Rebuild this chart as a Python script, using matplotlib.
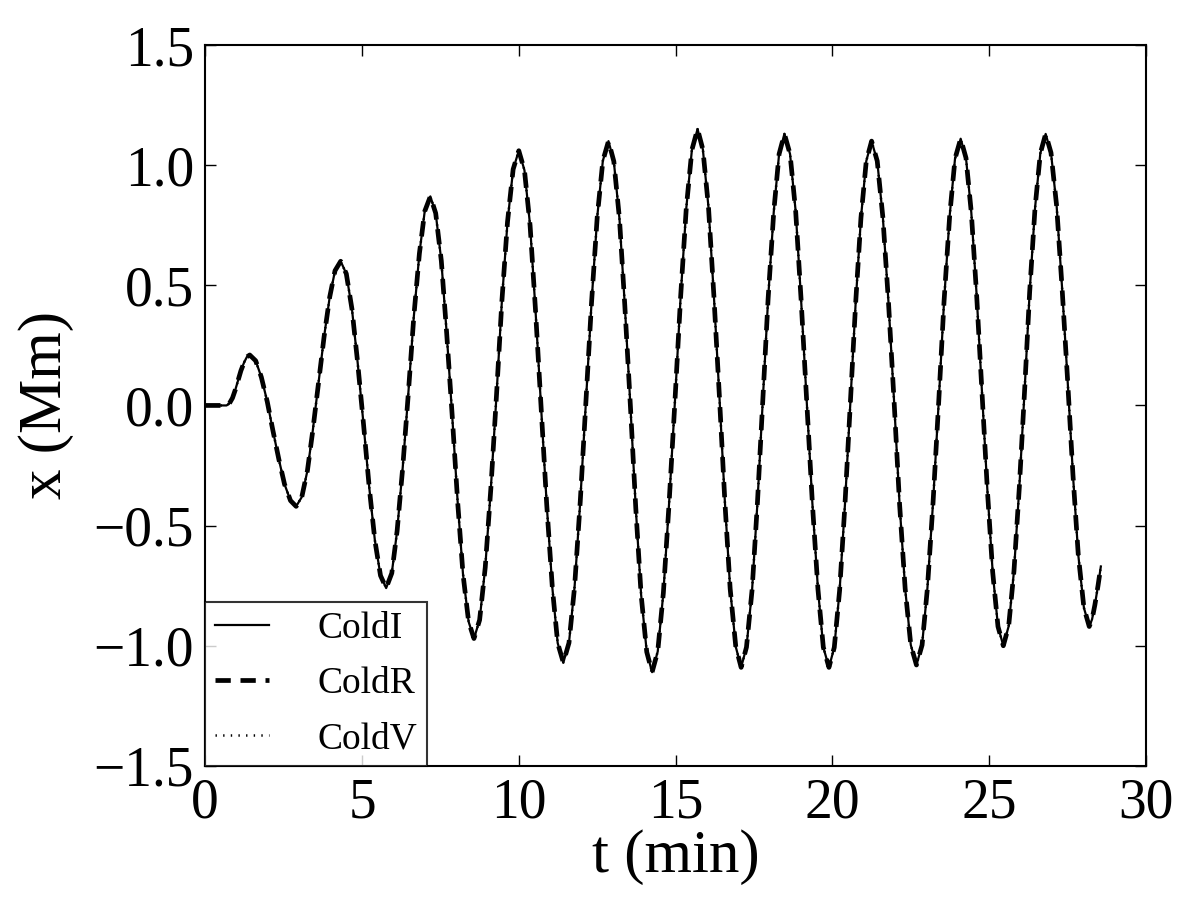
import matplotlib
matplotlib.use("Agg")
import matplotlib.pyplot as plt

# values (time in minutes, displacement in Mm)
t_min = [0.00, 0.30, 0.68, 0.77, 0.87, 0.96, 1.05, 1.14, 1.24, 1.33,
         1.42, 1.61, 1.79, 1.98, 2.16, 2.35, 2.53, 2.72,
         2.90, 3.08, 3.26, 3.43, 3.61, 3.79, 3.97, 4.14,
         4.32, 4.50, 4.68, 4.86, 5.05, 5.23, 5.41, 5.59,
         5.77, 5.95, 6.12, 6.30, 6.48, 6.65, 6.83, 7.00,
         7.18, 7.35, 7.53, 7.70, 7.88, 8.05, 8.22, 8.40,
         8.57, 8.75, 8.93, 9.11, 9.29, 9.46, 9.64, 9.82,
         10.00, 10.18, 10.36, 10.53, 10.71, 10.89, 11.07, 11.24,
         11.42, 11.60, 11.78, 11.96, 12.14, 12.32, 12.50, 12.68,
         12.86, 13.03, 13.21, 13.38, 13.56, 13.73, 13.90, 14.08,
         14.25, 14.43, 14.61, 14.79, 14.98, 15.16, 15.34, 15.52,
         15.70, 15.87, 16.05, 16.22, 16.40, 16.57, 16.74, 16.92,
         17.09, 17.26, 17.44, 17.61, 17.78, 17.95, 18.13, 18.30,
         18.47, 18.65, 18.83, 19.00, 19.18, 19.36, 19.54, 19.71,
         19.89, 20.06, 20.23, 20.40, 20.57, 20.74, 20.91, 21.08,
         21.25, 21.43, 21.61, 21.79, 21.97, 22.14, 22.32, 22.50,
         22.68, 22.86, 23.03, 23.21, 23.39, 23.56, 23.74, 23.91,
         24.09, 24.26, 24.43, 24.60, 24.77, 24.94, 25.11, 25.28,
         25.45, 25.62, 25.79, 25.96, 26.13, 26.29, 26.46, 26.63,
         26.80, 26.97, 27.15, 27.32, 27.50, 27.67, 27.84, 28.02,
         28.19, 28.28, 28.37, 28.47, 28.56]

x_coldI = [0.000, 0.000, 0.000, 0.008, 0.031, 0.065, 0.105, 0.145, 0.179, 0.202,
           0.210, 0.186, 0.118, 0.015, -0.105, -0.225, -0.328, -0.396,
           -0.420, -0.381, -0.271, -0.105, 0.090, 0.285, 0.451, 0.561,
           0.600, 0.548, 0.401, 0.180, -0.080, -0.340, -0.561, -0.708,
           -0.760, -0.698, -0.522, -0.256, 0.055, 0.366, 0.632, 0.808,
           0.870, 0.800, 0.601, 0.301, -0.050, -0.401, -0.701, -0.900,
           -0.970, -0.893, -0.674, -0.343, 0.045, 0.433, 0.764, 0.983,
           1.060, 0.979, 0.749, 0.402, -0.005, -0.412, -0.759, -0.989,
           -1.070, -0.988, -0.753, -0.399, 0.015, 0.429, 0.783, 1.018,
           1.100, 1.016, 0.777, 0.417, -0.005, -0.427, -0.787, -1.026,
           -1.110, -1.024, -0.780, -0.412, 0.020, 0.452, 0.820, 1.064,
           1.150, 1.065, 0.823, 0.458, 0.030, -0.398, -0.763, -1.005,
           -1.090, -1.006, -0.766, -0.404, 0.020, 0.444, 0.806, 1.046,
           1.130, 1.046, 0.806, 0.444, 0.020, -0.404, -0.766, -1.006,
           -1.090, -1.007, -0.770, -0.413, 0.005, 0.423, 0.780, 1.017,
           1.100, 1.017, 0.782, 0.426, 0.010, -0.406, -0.762, -0.997,
           -1.080, -0.997, -0.760, -0.403, 0.015, 0.433, 0.790, 1.027,
           1.110, 1.030, 0.802, 0.458, 0.055, -0.348, -0.692, -0.920,
           -1.000, -0.919, -0.689, -0.342, 0.065, 0.472, 0.819, 1.049,
           1.130, 1.052, 0.831, 0.497, 0.105, -0.287, -0.621, -0.842,
           -0.920, -0.890, -0.830, -0.750, -0.670]

# the three runs lie on top of each other in the figure
x_coldR = list(x_coldI)
x_coldV = list(x_coldI)

labels = ["ColdI", "ColdR", "ColdV"]

plt.rcParams['font.family'] = ['Liberation Serif', 'DejaVu Serif']
plt.rcParams['lines.scale_dashes'] = False

fig = plt.figure(figsize=(12, 9), dpi=100)
ax = fig.add_subplot(111)
fig.subplots_adjust(left=0.171, right=0.955, bottom=0.149, top=0.95)

ax.plot(t_min, x_coldI, color='black', lw=1.6, ls='-', label=labels[0])
ax.plot(t_min, x_coldR, color='black', lw=3.4, ls=(0, (11, 7)), label=labels[1])
ax.plot(t_min, x_coldV, color='black', lw=1.8, ls=(0, (1, 4.5)), label=labels[2])

ax.set_xlim(0, 30)
ax.set_ylim(-1.5, 1.5)
ax.set_xticks([0, 5, 10, 15, 20, 25, 30])
ax.set_yticks([-1.5, -1.0, -0.5, 0.0, 0.5, 1.0, 1.5])
ax.set_yticklabels(["\u22121.5", "\u22121.0", "\u22120.5", "0.0", "0.5", "1.0", "1.5"])

ax.tick_params(direction='in', top=True, right=True, length=8, width=1,
               labelsize=40, pad=8)
for sp in ax.spines.values():
    sp.set_linewidth(1.5)

ax.set_xlabel("t (min)", fontsize=44, labelpad=0)
ax.set_ylabel("x (Mm)", fontsize=44, labelpad=14)

leg = ax.legend(loc='lower left', fontsize=27, fancybox=False, frameon=True,
                borderaxespad=0, handlelength=1.45, handletextpad=1.3,
                borderpad=0.25, labelspacing=0.55)
leg.get_frame().set_edgecolor('black')
leg.get_frame().set_linewidth(1.5)

fig.savefig("out.png", dpi=100)
